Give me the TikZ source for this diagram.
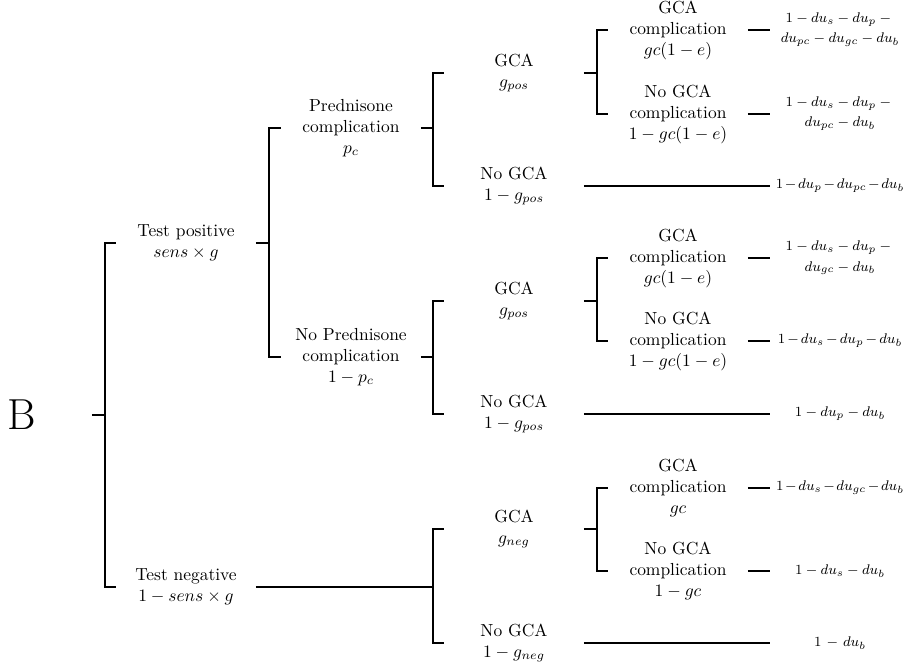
\documentclass[tikz,border=0pt]{standalone}
\usepackage{amsmath}
\begin{document}
\begin{tikzpicture}[x=0.5727pt,y=-0.5727pt, line width=0.9pt,
  nd/.style={minimum width=79pt, inner xsep=0pt, inner ysep=1pt, align=center, font=\normalsize},
  pay/.style={minimum width=79pt, inner xsep=0pt, inner ysep=1pt, align=center, font=\footnotesize}]
\useasboundingbox (0,0) rectangle (907,670);
% root
\node[nd, font=\Huge] (root) at (22,415) {B};
\node[nd] (tp) at (186,243) {Test positive\\ $sens\times g$};
\node[nd] (tn) at (186,587) {Test negative\\ $1-sens\times g$};
\node[nd] (pc) at (351,128) {Prednisone\\ complication\\ $p_c$};
\node[nd] (npc) at (351,357) {No Prednisone\\ complication\\ $1-p_c$};
% group 1
\node[nd] (g1) at (514,73) {GCA\\ $g_{pos}$};
\node[nd] (ng1) at (514,186) {No GCA\\ $1-g_{pos}$};
\node[nd] (c1) at (678,30) {GCA\\ complication\\ $gc(1-e)$};
\node[nd] (nc1) at (678,114) {No GCA\\ complication\\ $1-gc(1-e)$};
\node[pay] (p1) at (840,30) {$1-du_s-du_p-{}$\\[2pt] $du_{pc}-du_{gc}-du_b$};
\node[pay] (p2) at (840,114) {$1-du_s-du_p-{}$\\[2pt] $du_{pc}-du_b$};
\node[pay] (p3) at (840,186) {\medmuskip=2mu $1-du_p-du_{pc}-du_b$};
% group 2
\node[nd] (g2) at (514,301) {GCA\\ $g_{pos}$};
\node[nd] (ng2) at (514,414) {No GCA\\ $1-g_{pos}$};
\node[nd] (c2) at (678,258) {GCA\\ complication\\ $gc(1-e)$};
\node[nd] (nc2) at (678,341) {No GCA\\ complication\\ $1-gc(1-e)$};
\node[pay] (p4) at (840,258) {$1-du_s-du_p-{}$\\[2pt] $du_{gc}-du_b$};
\node[pay] (p5) at (840,341) {\medmuskip=2.5mu $1-du_s-du_p-du_b$};
\node[pay] (p6) at (840,414) {$1-du_p-du_b$};
% group 3
\node[nd] (g3) at (514,529) {GCA\\ $g_{neg}$};
\node[nd] (ng3) at (514,643) {No GCA\\ $1-g_{neg}$};
\node[nd] (c3) at (678,488) {GCA\\ complication\\ $gc$};
\node[nd] (nc3) at (678,571) {No GCA\\ complication\\ $1-gc$};
\node[pay] (p7) at (840,488) {\medmuskip=2mu $1-du_s-du_{gc}-du_b$};
\node[pay] (p8) at (840,571) {$1-du_s-du_b$};
\node[pay] (p9) at (840,643) {\medmuskip=6mu $1-du_b$};
% connectors
\draw (root.east) -- ++(13,0) coordinate (r) (r) |- (tp.west) (r) |- (tn.west);
\draw (tp.east) -- ++(13,0) coordinate (a) (a) |- (pc.west) (a) |- (npc.west);
\draw (pc.east) -- ++(12,0) coordinate (b1) (b1) |- (g1.west) (b1) |- (ng1.west);
\draw (npc.east) -- ++(12,0) coordinate (b2) (b2) |- (g2.west) (b2) |- (ng2.west);
\draw (tn.east) -- ++(177,0) coordinate (b3) (b3) |- (g3.west) (b3) |- (ng3.west);
\draw (g1.east) -- ++(13,0) coordinate (c1j) (c1j) |- (c1.west) (c1j) |- (nc1.west);
\draw (g2.east) -- ++(13,0) coordinate (c2j) (c2j) |- (c2.west) (c2j) |- (nc2.west);
\draw (g3.east) -- ++(13,0) coordinate (c3j) (c3j) |- (c3.west) (c3j) |- (nc3.west);
\draw (c1.east) -- (p1.west);
\draw (nc1.east) -- (p2.west);
\draw (ng1.east) -- (p3.west);
\draw (c2.east) -- (p4.west);
\draw (nc2.east) -- (p5.west);
\draw (ng2.east) -- (p6.west);
\draw (c3.east) -- (p7.west);
\draw (nc3.east) -- (p8.west);
\draw (ng3.east) -- (p9.west);
\end{tikzpicture}
\end{document}
